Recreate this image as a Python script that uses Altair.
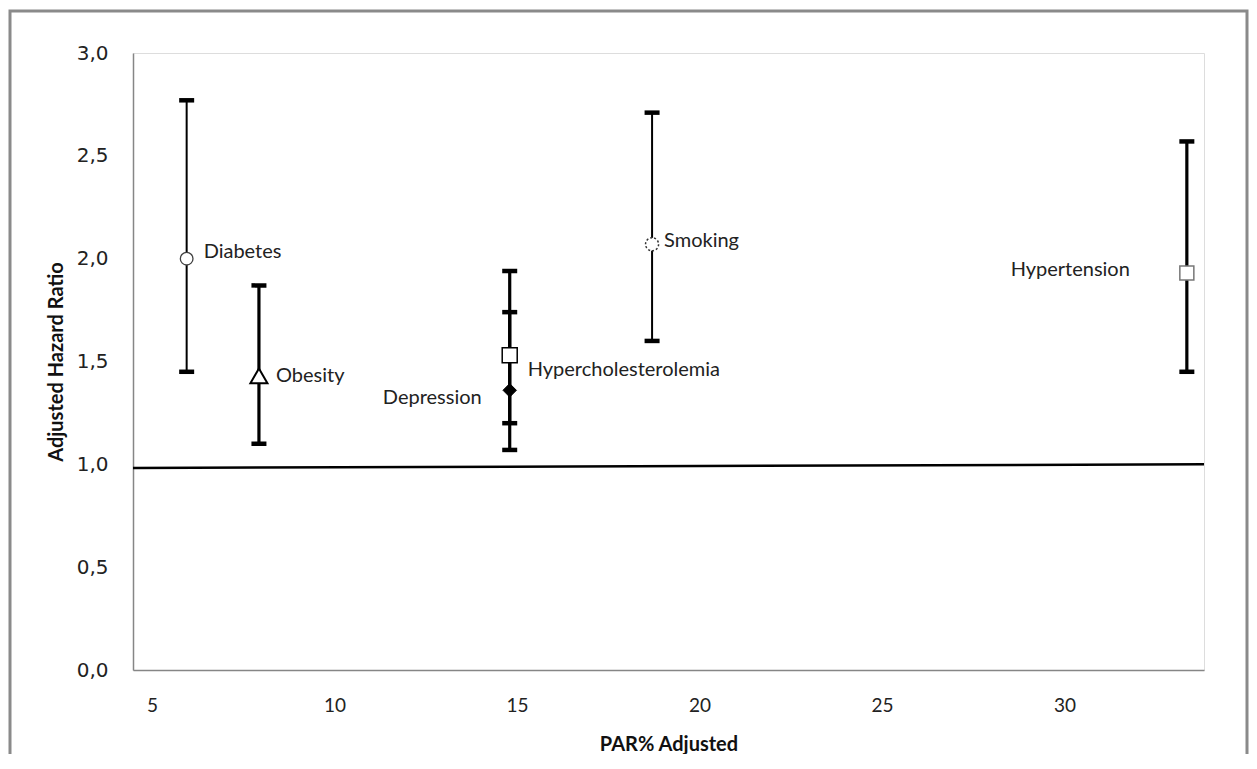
import json
import altair as alt
import pandas as pd

# ---- data ----
factors = ["Diabetes", "Obesity", "Depression", "Hypercholesterolemia", "Smoking", "Hypertension"]
par_adj = [5.95, 7.93, 14.8, 14.8, 18.7, 33.35]
hazard = [2.00, 1.43, 1.36, 1.53, 2.07, 1.93]
ci_low = [1.45, 1.10, 1.07, 1.20, 1.60, 1.45]
ci_high = [2.77, 1.87, 1.74, 1.94, 2.71, 2.57]

x_ticks = [5, 10, 15, 20, 25, 30]
y_ticks = [0.0, 0.5, 1.0, 1.5, 2.0, 2.5, 3.0]
x_domain = [4.48, 33.82]
ref_x = [4.48, 33.82]
ref_y = [0.982, 1.0]

df = pd.DataFrame({"factor": factors, "par": par_adj, "hr": hazard, "lo": ci_low, "hi": ci_high})
ref_df = pd.DataFrame({"par": ref_x, "hr": ref_y})

# ---- styles ----
thin_bars = ["Diabetes", "Smoking"]
marker_style = {
    "Diabetes": dict(shape="circle", size=160, fill="white", stroke="#404040", strokeWidth=1.3),
    "Obesity": dict(shape="triangle-up", size=290, fill="white", stroke="black", strokeWidth=2),
    "Depression": dict(shape="diamond", size=180, fill="black", stroke="black", strokeWidth=1),
    "Hypercholesterolemia": dict(shape="square", size=225, fill="white", stroke="black", strokeWidth=1.5),
    "Smoking": dict(shape="circle", size=170, fill="white", stroke="#333333", strokeWidth=1.5, strokeDash=[2, 2]),
    "Hypertension": dict(shape="square", size=196, fill="white", stroke="#777777", strokeWidth=1.5),
}
label_style = {
    "Diabetes": dict(dx=17, dy=-7, align="left"),
    "Obesity": dict(dx=17, dy=0, align="left"),
    "Depression": dict(dx=-28, dy=8, align="right"),
    "Hypercholesterolemia": dict(dx=18, dy=15, align="left"),
    "Smoking": dict(dx=12, dy=-3, align="left"),
    "Hypertension": dict(dx=-57, dy=-3, align="right"),
}

FONT = "Lato"

x_scale = alt.Scale(domain=x_domain, nice=False, zero=False)
y_scale = alt.Scale(domain=[0, 3], nice=False, zero=True)

x_enc = alt.X("par:Q", scale=x_scale,
              axis=alt.Axis(values=x_ticks, title="PAR% Adjusted", grid=False, ticks=False, tickSize=0,
                            labelPadding=26, labelFont=FONT, labelFontSize=19, labelColor="#222222",
                            titleFont=FONT, titleFontSize=20, titleFontWeight="bold", titleColor="#111111",
                            titlePadding=19, domainColor="#868686", domainWidth=1.5, labelFlush=False))
y_enc = alt.Y("hr:Q", scale=y_scale,
              axis=alt.Axis(values=y_ticks, title="Adjusted Hazard Ratio", grid=False, ticks=False, tickSize=0,
                            labelExpr="replace(format(datum.value, '.1f'), '.', ',')",
                            labelPadding=25, labelFont="DejaVu Sans", labelFontSize=20, labelColor="#222222",
                            titleFont=FONT, titleFontSize=20, titleFontWeight="bold", titleColor="#111111",
                            titlePadding=10, domainColor="#868686", domainWidth=1.5, labelFlush=False))

base = alt.Chart(df)
layers = []

# reference line at HR = 1 (carries the axes)
ref_line = alt.Chart(ref_df).mark_line(color="black", strokeWidth=2.5).encode(x=x_enc, y=y_enc)
layers.append(ref_line)

# outer frame of the figure (decoration)
frame = alt.Chart(ref_df).mark_rect(fill=None, stroke="#8a8a8a", strokeWidth=3).encode(
    x=alt.value(-123), x2=alt.value(1114), y=alt.value(-42), y2=alt.value(780)
).transform_filter("datum.par < 5")
layers.append(frame)

# error bars
thin_expr = "indexof(" + json.dumps(thin_bars) + ", datum.factor) >= 0"
layers.append(base.mark_rule(color="black", strokeWidth=2)
              .encode(x="par:Q", y="lo:Q", y2="hi:Q").transform_filter(thin_expr))
layers.append(base.mark_rule(color="black", strokeWidth=3.2)
              .encode(x="par:Q", y="lo:Q", y2="hi:Q").transform_filter("!(" + thin_expr + ")"))
# caps
for fld in ["lo", "hi"]:
    layers.append(base.mark_tick(orient="horizontal", color="black", size=15, thickness=4.5, opacity=1)
                  .encode(x="par:Q", y=f"{fld}:Q"))

# markers
for f in factors:
    st = marker_style[f]
    layers.append(base.mark_point(filled=False, opacity=1, fillOpacity=1, **st)
                  .encode(x="par:Q", y="hr:Q")
                  .transform_filter(alt.datum.factor == f))

# labels
for f in factors:
    st = label_style[f]
    layers.append(base.mark_text(font=FONT, fontSize=20, color="#222222", baseline="middle", **st)
                  .encode(x="par:Q", y="hr:Q", text="factor:N")
                  .transform_filter(alt.datum.factor == f))

chart = alt.layer(*layers).properties(
    width=1071, height=617,
    autosize=alt.AutoSizeParams(type="none"),
    padding={"left": 125, "top": 45, "right": 45, "bottom": 84},
).configure_view(stroke="black", strokeWidth=1.2).configure(background="white")

chart.save("out.html", embed_options={"renderer": "svg", "actions": False})
